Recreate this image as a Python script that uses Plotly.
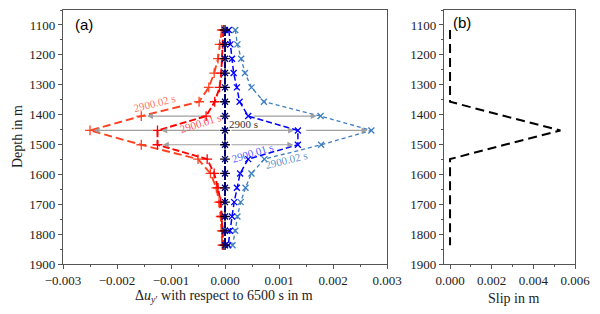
import plotly.graph_objects as go

# ---------------- data ----------------
depth = [1117, 1165, 1213, 1261, 1309, 1357, 1405, 1453, 1501, 1549, 1597, 1645, 1693, 1741, 1789, 1837]

red_2900_02 = [-0.00006, -0.00010, -0.00013, -0.00020, -0.00030, -0.00048, -0.00155, -0.00250,
               -0.00155, -0.00050, -0.00027, -0.00016, -0.00011, -0.00008, -0.00006, -0.00005]
red_2900_01 = [-0.00003, -0.00004, -0.00005, -0.00007, -0.00010, -0.00019, -0.00035, -0.00125,
               -0.00125, -0.00033, -0.00020, -0.00013, -0.00008, -0.00006, -0.00004, -0.00003]
base_2900 = [0.0, 0.0, 0.0, 0.0, 0.0, 0.0, 0.0, 0.0, 0.0, 0.0, 0.0, 0.0, 0.0, 0.0, 0.0, 0.0]
blue_2900_01 = [0.00007, 0.00010, 0.00013, 0.00016, 0.00022, 0.00027, 0.00043, 0.00135,
                0.00135, 0.00043, 0.00028, 0.00022, 0.00017, 0.00013, 0.00009, 0.00006]
sblue_2900_02 = [0.00019, 0.00023, 0.00030, 0.00037, 0.00049, 0.00072, 0.00177, 0.00271,
                 0.00178, 0.00073, 0.00049, 0.00038, 0.00029, 0.00023, 0.00019, 0.00014]

slip = [0.0, 0.0, 0.0, 0.0, 0.0, 0.0, 0.00262, 0.0053, 0.00262, 0.0, 0.0, 0.0, 0.0, 0.0, 0.0, 0.0]

x_ticks_a = [-0.003, -0.002, -0.001, 0.0, 0.001, 0.002, 0.003]
x_ticklabels_a = ["\u22120.003", "\u22120.002", "\u22120.001", "0.000", "0.001", "0.002", "0.003"]
x_ticks_b = [0.0, 0.002, 0.004, 0.006]
x_ticklabels_b = ["0.000", "0.002", "0.004", "0.006"]
y_ticks = [1100, 1200, 1300, 1400, 1500, 1600, 1700, 1800, 1900]

# ---------------- figure ----------------
fig = go.Figure()

def add_series(x, color, symbol, width, dash, msize, mlw=1.3):
    fig.add_trace(go.Scatter(
        x=x, y=depth, mode="lines+markers", xaxis="x", yaxis="y",
        line=dict(color=color, width=width, dash=dash),
        marker=dict(symbol=symbol, size=msize, color=color, line=dict(color=color, width=mlw)),
        showlegend=False, hoverinfo="skip"))

add_series(sblue_2900_02, "#3f7fbf", "x-thin", 1.3, "4px,3px", 6)
add_series(red_2900_02, "#ff4020", "cross-thin", 1.9, "8px,4px", 7)
add_series(red_2900_01, "#ff0000", "cross-thin", 1.9, "7px,3px", 7)
add_series(blue_2900_01, "#0000ff", "x-thin", 1.5, "6px,3px", 6)
add_series(base_2900, "#000000", "cross-thin", 1.8, "6px,2px", 7)
add_series(base_2900, "#000080", "x-thin", 1.8, "6px,2px", 6)

fig.add_trace(go.Scatter(
    x=slip, y=depth, mode="lines", xaxis="x2", yaxis="y2",
    line=dict(color="black", width=2, dash="9px,5px"),
    showlegend=False, hoverinfo="skip"))

annotations = []

def arrow(x_tail, x_head, y):
    annotations.append(dict(
        x=x_head, y=y, ax=x_tail, ay=y, xref="x", yref="y", axref="x", ayref="y",
        text="", showarrow=True, arrowhead=2, arrowsize=1.0, arrowwidth=1.2,
        arrowcolor="rgba(150,150,150,0.9)", standoff=0, startstandoff=0))

gap = 0.00007
# left side (red family)
arrow(red_2900_01[6] - gap, red_2900_02[6] + gap * 1.5, depth[6])
arrow(base_2900[7] - gap, red_2900_01[7] + gap, depth[7])
arrow(red_2900_01[7] - gap, red_2900_02[7] + gap, depth[7])
arrow(base_2900[8] - gap, red_2900_01[8] + gap * 1.4, depth[8])
# right side (blue family)
arrow(blue_2900_01[6] + gap, sblue_2900_02[6] - gap, depth[6])
arrow(base_2900[7] + gap * 1.3, blue_2900_01[7] - gap, depth[7])
arrow(blue_2900_01[7] + gap * 1.8, sblue_2900_02[7] - gap, depth[7])
arrow(base_2900[8] + gap * 1.3, blue_2900_01[8] - gap * 1.2, depth[8])

serif = "Liberation Serif, Times New Roman, serif"

def label(text, x, y, color, angle):
    annotations.append(dict(
        x=x, y=y, xref="x", yref="y", text=text, showarrow=False,
        textangle=angle, font=dict(family=serif, size=11, color=color),
        xanchor="center", yanchor="middle"))

label("2900.02 s", -0.00130, 1360, "rgba(255,69,30,0.75)", -14)
label("2900.01 s", -0.00045, 1428, "rgba(255,20,20,0.75)", -17)
label("2900 s", 0.00034, 1432, "#333333", 0)
label("2900.01 s", 0.00050, 1527, "rgba(30,30,255,0.75)", -17)
label("2900.02 s", 0.00114, 1553, "rgba(63,127,191,0.85)", -14)

# panel labels
annotations.append(dict(x=-0.00262, y=1097, xref="x", yref="y", text="(a)", showarrow=False,
                        font=dict(family="Liberation Sans", size=15, color="black"),
                        xanchor="center", yanchor="middle"))
annotations.append(dict(x=0.00058, y=1092, xref="x2", yref="y2", text="(b)", showarrow=False,
                        font=dict(family="Liberation Sans", size=15, color="black"),
                        xanchor="center", yanchor="middle"))

# axis titles
annotations.append(dict(x=-0.0898, y=0.5, xref="paper", yref="paper", text="Depth in m",
                        textangle=-90, showarrow=False,
                        font=dict(family=serif, size=14, color="#222"),
                        xanchor="center", yanchor="middle"))
annotations.append(dict(x=(224 - 63) / 512, y=-(296 - 264) / 254, xref="paper", yref="paper",
                        text="\u0394<i>u</i><sub><i>y</i>\u2032</sub> with respect to 6500 s in m",
                        showarrow=False, font=dict(family=serif, size=14, color="#222"),
                        xanchor="center", yanchor="middle"))
annotations.append(dict(x=(513 - 63) / 512, y=-(298 - 264) / 254, xref="paper", yref="paper",
                        text="Slip in m", showarrow=False,
                        font=dict(family=serif, size=14, color="#222"),
                        xanchor="center", yanchor="middle"))

axis_common = dict(showline=True, mirror=True, linecolor="#555555", linewidth=1.2,
                   ticks="outside", ticklen=4, tickwidth=1, tickcolor="#555555",
                   showgrid=False, zeroline=False,
                   tickfont=dict(family=serif, size=13, color="#222"))

fig.update_layout(
    width=600, height=314,
    margin=dict(l=63, r=25, t=10, b=50),
    paper_bgcolor="white", plot_bgcolor="white",
    font=dict(family=serif),
    xaxis=dict(domain=[0, 324 / 512], range=[-0.003, 0.003],
               tickvals=x_ticks_a, ticktext=x_ticklabels_a,
               minor=dict(dtick=0.0005, tick0=0, ticks="outside", ticklen=2, tickcolor="#555555"),
               anchor="y", **axis_common),
    yaxis=dict(range=[1900, 1050], tickvals=y_ticks, ticktext=[str(v) for v in y_ticks],
               minor=dict(dtick=50, tick0=1050, ticks="outside", ticklen=2, tickcolor="#555555"),
               anchor="x", **axis_common),
    xaxis2=dict(domain=[381 / 512, 1], range=[-0.00029, 0.006],
                tickvals=x_ticks_b, ticktext=x_ticklabels_b,
                minor=dict(dtick=0.001, tick0=0, ticks="outside", ticklen=2, tickcolor="#555555"),
                anchor="y2", **axis_common),
    yaxis2=dict(range=[1900, 1050], tickvals=y_ticks, ticktext=[str(v) for v in y_ticks],
                minor=dict(dtick=50, tick0=1050, ticks="outside", ticklen=2, tickcolor="#555555"),
                anchor="x2", **axis_common),
    annotations=annotations,
)

fig.write_html("out.html", config={"displayModeBar": False},
               post_script="document.body.style.margin='0px';document.body.style.padding='0px';")
